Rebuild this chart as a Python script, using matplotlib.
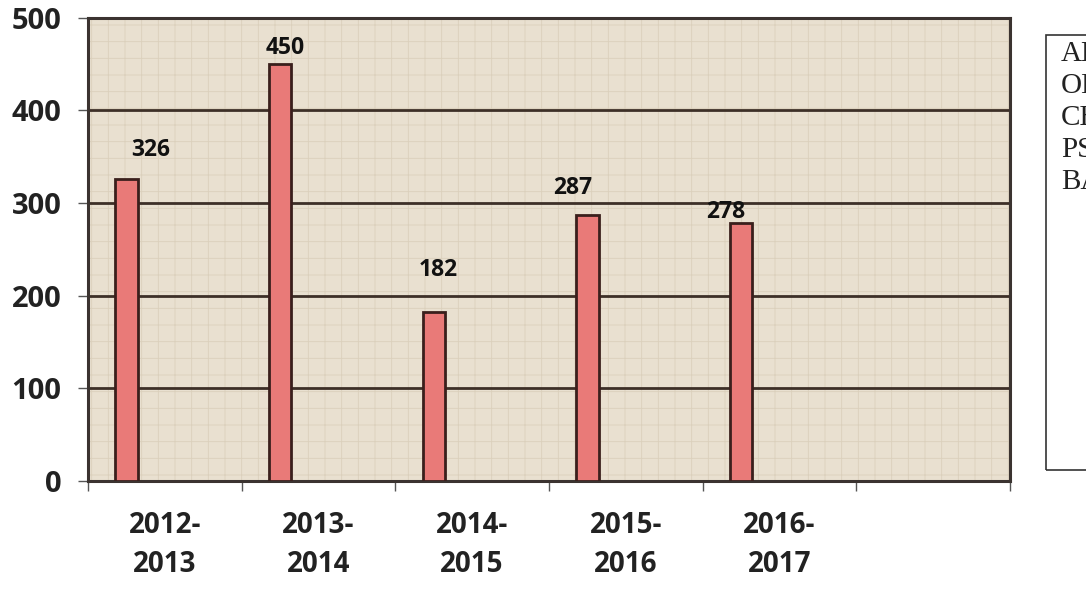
import matplotlib
matplotlib.use('Agg')
from matplotlib import pyplot as plt

years = ['2012-\n2013', '2013-\n2014', '2014-\n2015', '2015-\n2016', '2016-\n2017', '']
values = [326, 450, 182, 287, 278]
legend_lines = ['ALL', 'OBC', 'CHE', 'PSY', 'BAN']

# label offsets (pixels) from top of each bar
lbl_dx = [24, 5, 5, -15, -15]
lbl_dy = [29, 16, 42, 27, 11]

plt.rcParams['hatch.linewidth'] = 0.6

fig = plt.figure(figsize=(10.86, 5.93), dpi=100)
ax = fig.add_axes([0.081, 0.189, 0.849, 0.781])

ax.set_facecolor('#e9e0d0')
# light woven texture
tex = plt.Rectangle((0, 0), 1, 1, transform=ax.transAxes, facecolor='none',
                    edgecolor='#dbd0bc', hatch='+', linewidth=0, zorder=0.5)
ax.add_patch(tex)

xs = [i - 0.25 for i in range(len(values))]
bars = ax.bar(xs, values, width=0.145, color='#e97a78', edgecolor='#3a1f1c',
              linewidth=2, zorder=3)

for x, v, dx, dy in zip(xs, values, lbl_dx, lbl_dy):
    ax.annotate(str(v), (x, v), xytext=(dx, dy), textcoords='offset pixels',
                ha='center', va='center', fontsize=16.5, fontweight='bold',
                family='Open Sans', color='#111111', zorder=4)

ax.set_xlim(-0.5, len(years) - 0.5)
ax.set_ylim(0, 500)
ax.set_yticks([0, 100, 200, 300, 400, 500])
ax.yaxis.grid(True, color='#3d2f27', linewidth=2, zorder=1)
ax.set_axisbelow(True)

ax.set_xticks(range(len(years)))
ax.set_xticklabels(years, fontsize=20, fontweight='bold', family='Open Sans',
                   color='#222222', linespacing=1.45)
ax.set_xticks([i - 0.5 for i in range(len(years) + 1)], minor=True)
ax.tick_params(axis='x', which='major', length=0, pad=22)
ax.tick_params(axis='x', which='minor', length=7, width=1, color='#555555')
ax.tick_params(axis='y', length=7, width=1, color='#555555', pad=12)
for t in ax.get_yticklabels():
    t.set_fontsize(21)
    t.set_fontweight('bold')
    t.set_family('Open Sans')
    t.set_color('#222222')

for s in ax.spines.values():
    s.set_color('#3b3330')
    s.set_linewidth(2.2)

# legend box (cut off at the right edge in the original)
box = plt.Rectangle((1046 / 1086, 1 - 470 / 593), 0.1, (470 - 35) / 593,
                    transform=fig.transFigure, fill=False, edgecolor='#333333',
                    linewidth=1.2)
fig.add_artist(box)
for i, name in enumerate(legend_lines):
    fig.text(1061 / 1086, 1 - (54 + 32 * i) / 593, name, fontsize=21,
             family='Liberation Serif', va='center', ha='left', color='#222222')

plt.savefig('out.png', dpi=100)
